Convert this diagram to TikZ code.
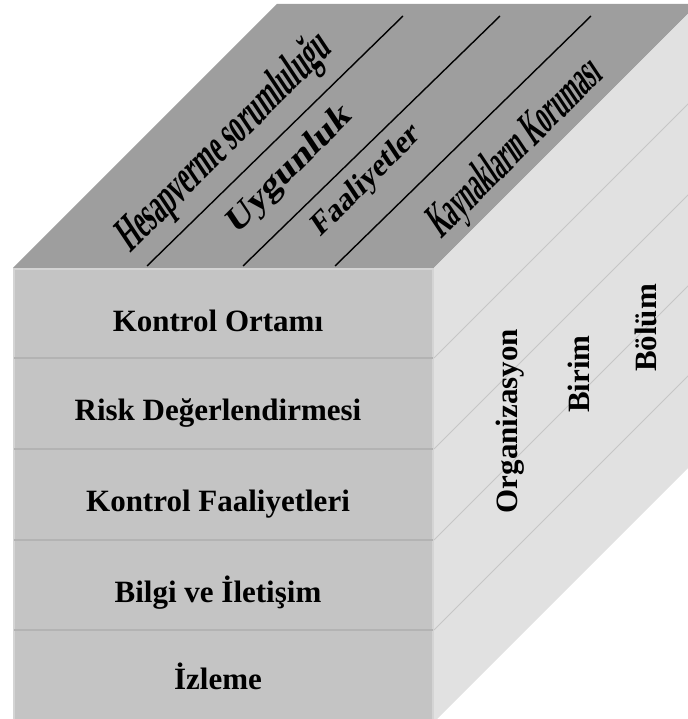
\documentclass[tikz,border=0pt]{standalone}
\usepackage{fontspec}
\setmainfont{Liberation Serif}
\definecolor{topgray}{HTML}{9E9E9E}
\definecolor{frontgray}{HTML}{C4C4C4}
\definecolor{rowline}{HTML}{B3B3B3}
\definecolor{edgelight}{HTML}{D4D4D4}
\definecolor{sidegray}{HTML}{E1E1E1}
\definecolor{sideline}{HTML}{C6C6C6}

\begin{document}
\begin{tikzpicture}[x=.5pt,y=.5pt,
    rowtext/.style={anchor=base,font=\fontsize{15.5}{18}\selectfont\bfseries},
    sidetext/.style={anchor=base,rotate=90,font=\fontsize{15.5}{18}\selectfont\bfseries},
    toptext/.style={rotate=45,xslant=.2,transform shape}]
  \useasboundingbox (0,0) rectangle (688,719);
  % the three faces of the cube
  \fill[topgray] (13,451) -- (434,451) -- (698,715) -- (277,715) -- cycle;
  \fill[sidegray] (434,451) -- (698,715) -- (698,261) -- (434,-3) -- cycle;
  \fill[frontgray] (13,-3) rectangle (434,451);
  \draw[edgelight,line width=1pt] (14,-3) -- (14,450) -- (433,450) -- (433,-3);
  \foreach \y in {361,270,179,89} {
    \draw[rowline,line width=1pt] (14,\y) -- (433,\y);
    \draw[sideline,line width=.4pt] (434,\y) -- ++(264,264);
  }
  \foreach \a/\b in {147/403,243/500,335/591}
    \draw[line width=.7pt] (\a,453) -- (\b,703);
  % top
  \node[toptext,xscale=.54,font=\fontsize{24}{26}\selectfont\bfseries] (HS) at (225,576) {Hesapverme sorumluluğu};
  \node[toptext,xscale=1.15,font=\fontsize{17}{19}\selectfont\bfseries] (UY) at (290,549) {Uygunluk};
  \node[toptext,font=\fontsize{15.5}{18}\selectfont\bfseries] (FA) at (367,538) {Faaliyetler};
  \node[toptext,xscale=.48,font=\fontsize{24}{26}\selectfont\bfseries] (KK) at (516,570) {Kaynakların Koruması};
  % front
  \node[rowtext] (KO) at (218,387) {Kontrol Ortamı};
  \node[rowtext] (RD) at (218,298) {Risk Değerlendirmesi};
  \node[rowtext] (KF) at (218,207) {Kontrol Faaliyetleri};
  \node[rowtext] (BI) at (218,116) {Bilgi ve İletişim};
  \node[rowtext] (IZ) at (218,30) {İzleme};
  % side
  \node[sidetext] (ORG) at (517,298) {Organizasyon};
  \node[sidetext] (BRM) at (589,345) {Birim};
  \node[sidetext] (BLM) at (656,391) {Bölüm};
\end{tikzpicture}
\end{document}
